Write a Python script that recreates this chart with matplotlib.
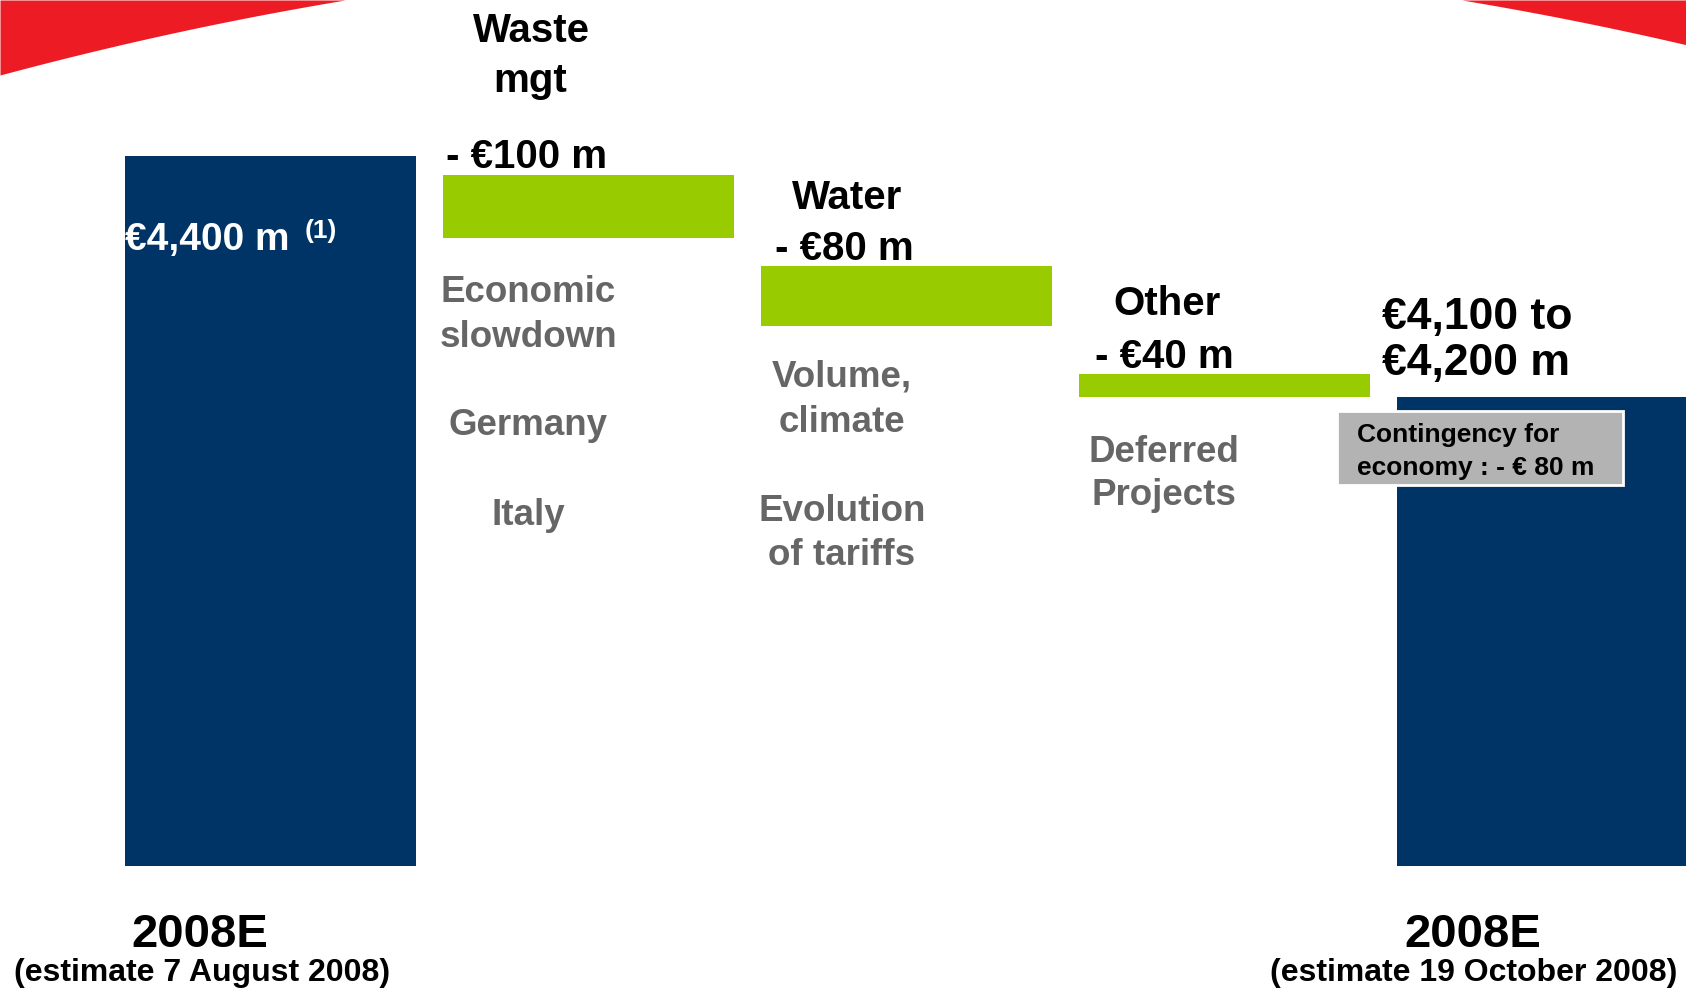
import numpy as np
import matplotlib
matplotlib.use("Agg")
import matplotlib.pyplot as plt
from matplotlib.patches import Rectangle

# ---------------- data ----------------
categories = ["2008E (7 Aug 2008)", "Waste mgt", "Water", "Other", "2008E (19 Oct 2008)"]
start_value = 4400            # EUR m, estimate 7 August 2008
deltas = [-100, -80, -40]     # EUR m, Waste mgt / Water / Other
end_range = (4100, 4200)      # EUR m, estimate 19 October 2008
contingency = -80             # EUR m

# stylised (non-proportional) positions of the bars as drawn in the slide, EUR m scale
baseline = 3650
green_top = [4380, 4284, 4170]
green_bottom = [4313, 4220, 4145]
end_bar_top = 4145

step_titles = [["Waste", "mgt"], ["Water"], ["Other"]]
step_labels = ["- €100 m", "- €80 m", "- €40 m"]
step_drivers = [["Economic", "slowdown", "Germany", "Italy"],
                ["Volume,", "climate", "Evolution", "of tariffs"],
                ["Deferred", "Projects"]]

# ---------------- style ----------------
W, H = 1686, 993
BLUE = "#003366"
GREEN = "#99CC00"
RED = "#ED1C24"
GRAY_TXT = "#666666"
BOX = "#B3B3B3"
FONT = ["Liberation Sans", "DejaVu Sans"]
plt.rcParams["font.family"] = FONT

fig = plt.figure(figsize=(W / 100, H / 100), dpi=100)
fig.patch.set_facecolor("white")

# decorative red banner (pixel-space overlay)
deco = fig.add_axes([0, 0, 1, 1], zorder=0)
deco.set_xlim(0, W)
deco.set_ylim(H, 0)
deco.axis("off")
xl, xr = 345, 1462
c, h = (xl + xr) / 2, (xr - xl) / 2
k = 75 / ((0 - c) ** 2 - h ** 2)
xs_left = np.linspace(0, xl, 200)
xs_right = np.linspace(xr, W, 200)
deco.fill_between(xs_left, 0, k * ((xs_left - c) ** 2 - h ** 2), color=RED, lw=0)
deco.fill_between(xs_right, 0, k * ((xs_right - c) ** 2 - h ** 2), color=RED, lw=0)

# main chart axes
ax = fig.add_axes([0, 0, 1, 1], zorder=1)
ax.patch.set_alpha(0)
ax.axis("off")
step_px = 318.0
x0_px = 270.5
ax.set_xlim(-x0_px / step_px, (W - x0_px) / step_px)
px_per_unit = (866 - 156) / (start_value - baseline)
ax.set_ylim(baseline - (H - 866) / px_per_unit, start_value + 156 / px_per_unit)

x = np.arange(len(categories))
bw = 0.912
ax.bar(x[0], start_value - baseline, bottom=baseline, width=bw, color=BLUE, lw=0)
for i in range(3):
    ax.bar(x[i + 1], green_top[i] - green_bottom[i], bottom=green_bottom[i],
           width=bw, color=GREEN, lw=0)
ax.bar(x[4], end_bar_top - baseline, bottom=baseline, width=bw, color=BLUE, lw=0)


def ft(px, py, s, size, color="black", ha="center", weight="bold", **kw):
    fig.text(px / W, 1 - py / H, s, fontsize=size, color=color, ha=ha,
             va="baseline", fontweight=weight, zorder=5, **kw)


# start bar label
ft(125, 250, f"€{start_value:,} m", 28, color="white", ha="left")
ft(305, 238, "(1)", 19, color="white", ha="left")

# step titles / values
ft(531, 42, step_titles[0][0], 29)
ft(530, 92, step_titles[0][1], 29)
ft(446, 168, step_labels[0], 29, ha="left")
ft(847, 209, step_titles[1][0], 29)
ft(775, 260, step_labels[1], 29, ha="left")
ft(1167, 315, step_titles[2][0], 29)
ft(1095, 368, step_labels[2], 29, ha="left")

# drivers (gray)
for (cx, ys), lines in zip([(528, [302, 347, 435, 525]),
                            (842, [387, 432, 521, 565]),
                            (1164, [462, 505])], step_drivers):
    for yy, ln in zip(ys, lines):
        ft(cx, yy, ln, 26.5, color=GRAY_TXT)

# end bar label
ft(1382, 329, f"€{end_range[0]:,} to", 32, ha="left")
ft(1382, 375, f"€{end_range[1]:,} m", 32, ha="left")

# contingency box
fig.add_artist(Rectangle((1337 / W, 1 - 485 / H), (1623 - 1337) / W, (485 - 411) / H,
                         transform=fig.transFigure, facecolor=BOX,
                         edgecolor="white", lw=2, zorder=4))
ft(1357, 442, "Contingency for", 19, ha="left")
ft(1357, 475, f"economy : - € {abs(contingency)} m", 19, ha="left")

# bottom category labels
ft(200, 947, "2008E", 34)
ft(202, 981, "(estimate 7 August 2008)", 23)
ft(1473, 947, "2008E", 34)
ft(1474, 981, "(estimate 19 October 2008)", 23)

fig.savefig("out.png", dpi=100, facecolor="white")
